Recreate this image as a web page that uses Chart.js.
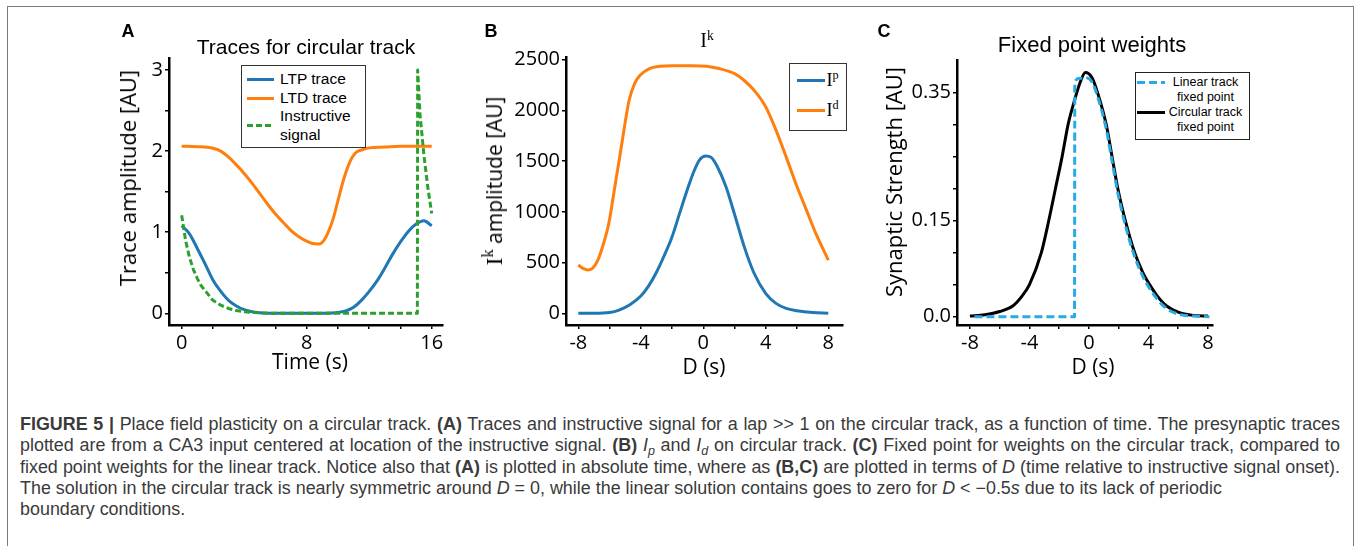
<!DOCTYPE html>
<html lang="en">
<head>
<meta charset="UTF-8">
<title>Place field plasticity on a circular track</title>
<script src="https://cdn.jsdelivr.net/npm/chart.js"></script>
<style>
  body { margin: 0; background: #fff; }
  #fig { position: relative; width: 1358px; height: 546px; overflow: hidden; font-family: "Liberation Sans", Arial, sans-serif; color: #000; }
  #frame { position: absolute; left: 7px; top: 6px; width: 1345px; height: 600px; border: 1px solid #7a7a7a; }
  canvas { position: absolute; }
  .t { position: absolute; white-space: nowrap; line-height: 1; transform: translate(-50%, -50%); }
  .rot { transform: translate(-50%, -50%) rotate(-90deg); }
  .letter { font-weight: bold; font-size: 18px; }
  .axt { font-family: "Open Sans", sans-serif; font-size: 21px; }
  .serif { font-family: "Liberation Serif", "DejaVu Serif", serif; }
  .sup { position: relative; top: -0.55em; font-size: 0.68em; }
  .legend { position: absolute; background: #fff; border: 1.5px solid #333; box-sizing: border-box; }
  .row { display: flex; align-items: center; white-space: nowrap; }
  .sw { flex: none; height: 3px; }
  #caption { position: absolute; left: 20px; top: 414px; width: 1320px; color: #3a3a3a; font-size: 15.5px; }
  #caption div { height: 21.3px; line-height: 21.3px; white-space: nowrap; }
  #caption .j { text-align: justify; text-align-last: justify; }
  #caption sub { font-size: 0.7em; vertical-align: 0; position: relative; top: 0.3em; line-height: 0; }
</style>
</head>
<body>
<div id="fig">
  <div id="frame"></div>

  <canvas id="chartA" width="360" height="365" style="left:100px; top:20px"></canvas>
  <canvas id="chartB" width="400" height="365" style="left:460px; top:20px"></canvas>
  <canvas id="chartC" width="380" height="365" style="left:870px; top:20px"></canvas>

  <!-- panel A text -->
  <div class="t letter" style="left:128px; top:31px">A</div>
  <div class="t" style="left:306px; top:46px; font-size:21px">Traces for circular track</div>
  <div class="t axt rot" style="left:127px; top:178px; font-size:22px">Trace amplitude [AU]</div>
  <div class="t axt" style="left:310px; top:361px">Time (s)</div>

  <!-- panel B text -->
  <div class="t letter" style="left:491px; top:31px">B</div>
  <div class="t serif" style="left:707px; top:40px; font-size:20px">I<span class="sup">k</span></div>
  <div class="t axt rot" style="left:494px; top:181px"><span class="serif" style="font-size:24px">I<span class="sup">k</span></span> amplitude [AU]</div>
  <div class="t axt" style="left:704px; top:366px">D (s)</div>

  <!-- panel C text -->
  <div class="t letter" style="left:884px; top:31px">C</div>
  <div class="t" style="left:1092px; top:45px; font-size:22px">Fixed point weights</div>
  <div class="t axt rot" style="left:893px; top:182px; font-size:22px">Synaptic Strength [AU]</div>
  <div class="t axt" style="left:1093px; top:366px">D (s)</div>

  <div class="legend" id="legendA" style="left:241px; top:65px; width:125px; height:82.5px; padding-top:4.25px; font-size:15.5px; line-height:18.5px"></div>
  <div class="legend" id="legendB" style="left:789px; top:63px; width:58px; height:68px; padding-top:1.5px; line-height:28px"></div>
  <div class="legend" id="legendC" style="left:1135px; top:72px; width:115px; height:68px; padding-top:2.45px; font-size:12.5px; line-height:14.7px; border-color:#222"></div>

  <div id="caption">
    <div class="j"><span><b>FIGURE 5 |</b> Place field plasticity on a circular track. <b>(A)</b> Traces and instructive signal for a lap &gt;&gt; 1 on the circular track, as a function of time. The presynaptic traces</span></div>
    <div class="j"><span>plotted are from a CA3 input centered at location of the instructive signal. <b>(B)</b> <i>I</i><sub><i>p</i></sub> and <i>I</i><sub><i>d</i></sub> on circular track. <b>(C)</b> Fixed point for weights on the circular track, compared to</span></div>
    <div class="j"><span>fixed point weights for the linear track. Notice also that <b>(A)</b> is plotted in absolute time, where as <b>(B,C)</b> are plotted in terms of <i>D</i> (time relative to instructive signal onset).</span></div>
    <div><span>The solution in the circular track is nearly symmetric around <i>D</i> = 0, while the linear solution contains goes to zero for <i>D</i> &lt; &minus;0.5<i>s</i> due to its lack of periodic</span></div>
    <div><span>boundary conditions.</span></div>
  </div>
</div>

<script>
  // ---- A: traces for circular track (time in s) ----
  const ltpTime = [0, 0.5, 1, 1.5, 2, 2.5, 3, 3.5, 4, 4.5, 5, 6, 7, 8, 9, 10, 10.5, 11, 11.5, 12, 12.5, 13, 13.5, 14, 14.5, 15, 15.5, 16];
  const ltpTrace = [1.08, 0.98, 0.80, 0.61, 0.41, 0.27, 0.16, 0.09, 0.045, 0.02, 0.008, 0.001, 0, 0, 0.001, 0.01, 0.03, 0.075, 0.16, 0.27, 0.40, 0.56, 0.73, 0.88, 1.01, 1.10, 1.14, 1.08];

  const ltdTime = [0, 1, 2, 2.5, 3, 3.5, 4, 4.5, 5, 5.5, 6, 6.5, 7, 7.5, 8, 8.5, 8.8, 9.1, 9.4, 9.7, 10, 10.3, 10.6, 10.9, 11.2, 11.6, 12, 13, 14, 15, 16];
  const ltdTrace = [2.06, 2.055, 2.035, 2.0, 1.925, 1.83, 1.725, 1.605, 1.475, 1.345, 1.225, 1.12, 1.02, 0.945, 0.89, 0.857, 0.856, 0.90, 1.01, 1.17, 1.39, 1.61, 1.79, 1.92, 1.99, 2.02, 2.04, 2.05, 2.06, 2.06, 2.06];

  const instrTime = [0, 0.25, 0.5, 0.75, 1, 1.25, 1.5, 2, 2.5, 3, 3.5, 4, 5, 6, 15.08, 15.1, 15.25, 15.5, 15.75, 16];
  const instrSignal = [1.21, 0.90, 0.69, 0.54, 0.43, 0.34, 0.28, 0.16, 0.10, 0.06, 0.035, 0.02, 0.005, 0, 0, 3.0, 2.45, 1.95, 1.55, 1.23];

  const timeTicks = [0, 2, 4, 6, 8, 10, 12, 14, 16];
  const timeLabels = ['0', '', '', '', '8', '', '', '', '16'];
  const ampTicks = [0, 0.5, 1, 1.5, 2, 2.5, 3];
  const ampLabels = ['0', '', '1', '', '2', '', '3'];

  // ---- B: I^k amplitude vs D (s) ----
  const ipD = [-8, -7, -6, -5.4, -4.7, -4, -3.5, -3, -2.5, -2, -1.5, -1, -0.6, -0.25, 0.15, 0.5, 0.9, 1.45, 2, 2.6, 3.25, 4, 4.65, 5.3, 6, 7, 8];
  const ipAmp = [0, 0, 8, 32, 85, 170, 270, 405, 570, 755, 995, 1230, 1400, 1510, 1550, 1537, 1445, 1247, 975, 665, 395, 195, 98, 49, 26, 8, 2];

  const idD = [-8, -7.7, -7.4, -7.1, -6.75, -6.45, -6.05, -5.7, -5.35, -5.05, -4.75, -4.4, -4.05, -3.45, -2.8, -2, -0.7, 0.2, 1, 2, 2.6, 3.25, 4, 4.65, 5.3, 6, 6.6, 7.2, 8];
  const idAmp = [476, 443, 427, 443, 525, 656, 886, 1214, 1542, 1837, 2100, 2264, 2346, 2412, 2435, 2441, 2441, 2435, 2412, 2362, 2297, 2198, 2034, 1805, 1542, 1247, 1017, 787, 525];

  const dTicks = [-8, -6, -4, -2, 0, 2, 4, 6, 8];
  const dLabels = ['-8', '', '-4', '', '0', '', '4', '', '8'];
  const ikTicks = [0, 500, 1000, 1500, 2000, 2500];
  const ikLabels = ['0', '500', '1000', '1500', '2000', '2500'];

  // ---- C: fixed point weights ----
  const linD = [-7.7, -0.97, -0.95, -0.6, -0.24, 0.2, 0.6, 1.16, 1.55, 1.94, 2.5, 3.07, 3.6, 4.08, 4.6, 5.2, 6, 7, 8.1];
  const linW = [0, 0, 0.366, 0.372, 0.373, 0.366, 0.342, 0.293, 0.243, 0.193, 0.138, 0.094, 0.064, 0.044, 0.027, 0.013, 0.004, 0.001, 0];

  const circD = [-8, -7, -6, -5.1, -4.5, -4, -3.2, -2.7, -2.25, -1.8, -1.4, -1.0, -0.6, -0.24, 0.2, 0.6, 1.16, 1.55, 1.94, 2.5, 3.07, 3.6, 4.08, 4.6, 5.2, 6, 7, 8];
  const circW = [0.001, 0.003, 0.008, 0.017, 0.032, 0.05, 0.10, 0.15, 0.20, 0.25, 0.30, 0.335, 0.365, 0.381, 0.373, 0.348, 0.30, 0.25, 0.20, 0.145, 0.10, 0.07, 0.05, 0.032, 0.017, 0.007, 0.002, 0.001];

  const wTicks = [0, 0.05, 0.10, 0.15, 0.20, 0.25, 0.30, 0.35];
  const wLabels = ['0.0', '', '', '0.15', '', '', '', '0.35'];

  const pts = (xs, ys) => xs.map((x, i) => ({x: x, y: ys[i]}));

  // axis with fixed tick list and a fixed thickness so the plot box lands where it should
  function axis(min, max, ticks, labels, fit) {
    return {
      type: 'linear', min: min, max: max,
      afterBuildTicks: s => { s.ticks = ticks.map(v => ({value: v})); },
      afterFit: fit,
      ticks: {
        callback: (v, i) => labels[i],
        autoSkip: false, maxRotation: 0, padding: 2, color: '#000',
        font: {family: 'Open Sans', size: 20}
      },
      grid: {drawOnChartArea: false, tickLength: 4, color: '#000', lineWidth: 1.5},
      border: {color: '#000', width: 2.5}
    };
  }

  function options(pad, x, y) {
    return {
      responsive: false,
      animation: false,
      layout: {padding: pad},
      elements: {point: {radius: 0}, line: {borderWidth: 3, borderJoinStyle: 'round'}},
      plugins: {legend: {display: false}, tooltip: {enabled: false}},
      scales: {x: x, y: y}
    };
  }

  const chartA = new Chart(document.getElementById('chartA'), {
    type: 'line',
    data: {
      datasets: [
        {label: 'LTP trace', data: pts(ltpTime, ltpTrace), borderColor: '#1f77b4', cubicInterpolationMode: 'monotone', order: 1},
        {label: 'LTD trace', data: pts(ltdTime, ltdTrace), borderColor: '#ff7f0e', cubicInterpolationMode: 'monotone', order: 1},
        {label: 'Instructive\nsignal', data: pts(instrTime, instrSignal), borderColor: '#2ca02c', borderDash: [6, 3], tension: 0, order: 0}
      ]
    },
    options: options({left: 0, top: 38, right: 17, bottom: 0},
      axis(-0.81, 16.72, timeTicks, timeLabels, s => { s.height = 60; }),
      axis(-0.144, 3.148, ampTicks, ampLabels, s => { s.width = 69; }))
  });

  const chartB = new Chart(document.getElementById('chartB'), {
    type: 'line',
    data: {
      datasets: [
        {label: 'Ip', data: pts(ipD, ipAmp), borderColor: '#1f77b4', cubicInterpolationMode: 'monotone'},
        {label: 'Id', data: pts(idD, idAmp), borderColor: '#ff7f0e', cubicInterpolationMode: 'monotone'}
      ]
    },
    options: options({left: 0, top: 37, right: 17, bottom: 0},
      axis(-8.79, 8.94, dTicks, dLabels, s => { s.height = 60; }),
      axis(-115, 2526, ikTicks, ikLabels, s => { s.width = 106; }))
  });

  const chartC = new Chart(document.getElementById('chartC'), {
    type: 'line',
    data: {
      datasets: [
        {label: 'Linear track\nfixed point', data: pts(linD, linW), borderColor: '#29abe2', borderDash: [8, 4], cubicInterpolationMode: 'monotone'},
        {label: 'Circular track\nfixed point', data: pts(circD, circW), borderColor: '#000', cubicInterpolationMode: 'monotone'}
      ]
    },
    options: options({left: 0, top: 40, right: 37, bottom: 0},
      axis(-8.87, 8.34, dTicks, dLabels, s => { s.height = 60; }),
      axis(-0.013, 0.4004, wTicks, wLabels, s => { s.width = 87; }))
  });

  // html legends built from the datasets
  function swatchBg(ds) {
    if (!ds.borderDash) return ds.borderColor;
    const a = ds.borderDash[0], b = ds.borderDash[1];
    return 'repeating-linear-gradient(to right, ' + ds.borderColor + ' 0 ' + a + 'px, transparent ' + a + 'px ' + (a + b) + 'px)';
  }

  function buildLegend(chart, id, o) {
    const box = document.getElementById(id);
    chart.data.datasets.forEach((ds, i) => {
      const row = document.createElement('div');
      row.className = 'row';
      if (o.top) row.style.alignItems = 'flex-start';
      const sw = document.createElement('span');
      sw.className = 'sw';
      sw.style.width = o.swatch + 'px';
      sw.style.marginLeft = o.left + 'px';
      sw.style.background = swatchBg(ds);
      if (o.top) sw.style.marginTop = o.top + 'px';
      const txt = document.createElement('span');
      txt.style.marginLeft = o.gap + 'px';
      if (o.textWidth) { txt.style.width = o.textWidth + 'px'; txt.style.textAlign = 'center'; }
      txt.innerHTML = o.html ? o.html[i] : ds.label.replace('\n', '<br>');
      row.appendChild(sw);
      row.appendChild(txt);
      box.appendChild(row);
    });
  }

  buildLegend(chartA, 'legendA', {swatch: 27, left: 5, gap: 6});
  buildLegend(chartB, 'legendB', {swatch: 28, left: 6.5, gap: 2, html: [
    '<span class="serif" style="font-size:18px">I<span class="sup">p</span></span>',
    '<span class="serif" style="font-size:18px">I<span class="sup">d</span></span>'
  ]});
  buildLegend(chartC, 'legendC', {swatch: 28, left: 0.5, gap: 3, top: 5.85, textWidth: 76});

  // size the caption so its widest line just fills the frame, then justify the full lines
  const cap = document.getElementById('caption');
  const lines = Array.from(cap.children);
  const full = lines.filter(d => d.classList.contains('j'));
  full.forEach(d => d.classList.remove('j'));
  const widest = Math.max(...full.map(d => d.firstElementChild.getBoundingClientRect().width));
  cap.style.fontSize = (15.5 * 1318 / widest) + 'px';
  full.forEach(d => d.classList.add('j'));
  lines.forEach(d => { d.style.whiteSpace = 'normal'; });
</script>
</body>
</html>
